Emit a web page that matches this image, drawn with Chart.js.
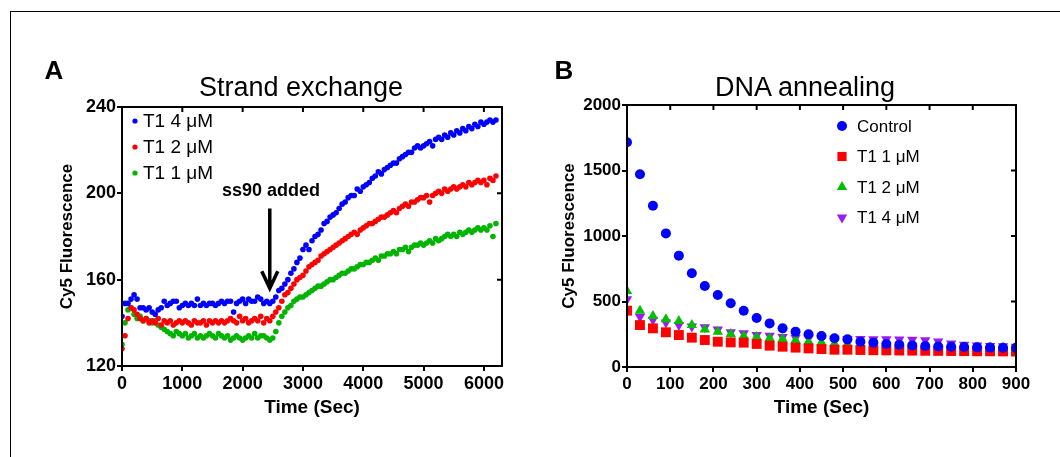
<!DOCTYPE html>
<html>
<head>
<meta charset="utf-8">
<title>Strand exchange / DNA annealing</title>
<script src="https://cdn.jsdelivr.net/npm/chart.js@4.4.1/dist/chart.umd.min.js"></script>
<style>
  body { margin: 0; background: #fff; font-family: "Liberation Sans", Arial, sans-serif; }
  #page { position: relative; width: 1060px; height: 457px; overflow: hidden; }
  #frame { position: absolute; left: 10px; top: 11px; width: 1100px; height: 500px;
           border-left: 1px solid #000; border-top: 1px solid #000; }
  .panel { position: absolute; top: 0; width: 530px; height: 457px; }
  .txt { position: absolute; white-space: nowrap; color: #000; line-height: 1;
         transform: translate(-50%, -50%); }
  .letter { font-weight: bold; font-size: 26px; }
  .title { font-size: 27px; }
</style>
</head>
<body>
<div id="page">
  <div id="frame"></div>
  <div class="panel" style="left:0"><canvas id="chartA" width="530" height="457"></canvas></div>
  <div class="panel" style="left:530px"><canvas id="chartB" width="530" height="457"></canvas></div>
  <div class="txt letter" style="left:54px;top:70px">A</div>
  <div class="txt letter" style="left:564px;top:70px">B</div>
  <div class="txt title" style="left:301px;top:87px">Strand exchange</div>
  <div class="txt title" style="left:805px;top:87px">DNA annealing</div>
  <div class="txt" style="left:271px;top:190px;font-weight:bold;font-size:18px">ss90 added</div>
</div>
<script>
// ---- Panel A: strand exchange, one reading every 50 s from 0 to 6200 s ----
const stepA = 50;
const t1_4uM = [
  143,149,149,151,153,151,147,147,146,147,
  145,144,146,147,150,148,149,150,150,147,
  148,149,148,149,148,151,148,149,148,149,
  149,148,149,150,149,150,150,145,149,150,
  151,149,151,150,150,152,151,149,150,149,
  150,152,155,156,158,160,163,165,168,170,
  174,176,174,178,180,181,183,186,187,189,
  190,191,193,195,196,198,199,199,202,201,
  203,204,205,207,208,210,209,211,212,213,
  214,214,216,217,218,219,219,221,222,221,
  222,223,224,222,225,226,225,227,226,228,
  227,229,228,230,229,231,230,232,231,233,
  232,233,234,233,234
];
const t1_2uM = [
  128,134,142,147,146,144,142,141,142,140,
  141,140,142,139,141,140,141,139,140,141,
  140,141,140,139,141,140,140,141,139,141,
  140,141,140,141,140,141,142,141,140,143,
  141,142,140,141,142,141,143,140,142,141,
  143,145,147,150,153,154,156,158,160,161,
  162,164,166,167,168,169,171,172,173,174,
  175,176,177,178,179,180,181,182,181,183,
  184,185,186,186,187,188,189,189,190,191,
  192,191,193,194,195,194,196,196,197,198,
  198,199,196,199,200,201,200,202,201,202,
  203,202,203,204,203,205,204,205,206,205,
  206,204,207,206,208
];
const t1_1uM = [
  130,140,146,147,144,142,143,141,142,141,
  140,141,139,138,137,136,135,134,136,135,
  134,135,133,134,135,133,134,133,134,135,
  134,133,135,134,133,134,132,133,134,133,
  132,133,134,133,135,133,134,134,133,132,
  133,136,140,143,145,147,148,150,151,152,
  152,153,154,155,156,157,157,158,159,160,
  160,161,162,163,163,164,165,165,166,167,
  167,168,168,169,170,169,171,171,172,172,
  173,172,174,174,175,173,175,176,176,177,
  176,177,178,177,179,178,179,180,181,180,
  181,180,182,181,182,183,182,183,184,183,
  184,183,185,180,186
];
const labelsA = ['T1 4 μM', 'T1 2 μM', 'T1 1 μM'];
const colorsA = ['#0000ff', '#ff0000', '#00b400'];
const xTicksA = [0, 1000, 2000, 3000, 4000, 5000, 6000];
const yTicksA = [120, 160, 200, 240];
const xMaxA = 6300;
// arrow marking the ss90 addition
const arrowAt = { x: 2450, top: 193, tip: 156 };

// ---- Panel B: DNA annealing, every 30 s from 0 to 900 s ----
const timesB = [0,30,60,90,120,150,180,210,240,270,300,330,360,390,420,450,
                480,510,540,570,600,630,660,690,720,750,780,810,840,870,900];
const control = [1715,1471,1231,1020,850,715,618,550,486,430,374,333,295,270,250,237,
                 219,211,193,186,176,170,165,160,157,155,152,150,148,147,146];
const b_t1_1uM = [430,320,295,265,244,224,206,193,188,186,176,163,155,148,142,137,
                  132,132,130,128,127,126,125,124,123,122,121,120,120,119,118];
const b_t1_2uM = [580,430,389,364,351,320,287,270,252,237,229,220,213,205,195,187,
                  180,175,170,167,164,161,158,156,154,152,150,149,148,147,146];
const b_t1_4uM = [517,384,360,340,320,310,303,287,265,257,244,239,229,223,220,218,
                  216,214,213,212,211,210,208,205,195,180,170,165,160,158,155];
const labelsB = ['Control', 'T1 1 μM', 'T1 2 μM', 'T1 4 μM'];
const colorsB = ['#0000ff', '#ff0000', '#00c000', '#9b1cf0'];
const xTicksB = [0, 100, 200, 300, 400, 500, 600, 700, 800, 900];
const yTicksB = [0, 500, 1000, 1500, 2000];

const FONT = '"Liberation Sans", Arial, sans-serif';

// closed box round the plot with inward ticks on top and right
const boxPlugin = {
  id: 'box',
  afterDraw(chart) {
    const { ctx, chartArea: a, scales: { x, y } } = chart;
    ctx.save();
    ctx.strokeStyle = '#000';
    ctx.lineWidth = 2;
    ctx.strokeRect(a.left, a.top, a.right - a.left, a.bottom - a.top);
    ctx.beginPath();
    x.ticks.forEach(t => {
      const px = x.getPixelForValue(t.value);
      if (px > a.left + 2 && px < a.right - 2) { ctx.moveTo(px, a.top); ctx.lineTo(px, a.top + 5); }
    });
    y.ticks.forEach(t => {
      const py = y.getPixelForValue(t.value);
      if (py > a.top + 2 && py < a.bottom - 2) { ctx.moveTo(a.right, py); ctx.lineTo(a.right - 5, py); }
    });
    ctx.stroke();
    ctx.restore();
  }
};

// legend drawn inside the plot
const innerLegend = {
  id: 'innerLegend',
  afterDraw(chart, args, o) {
    const ctx = chart.ctx;
    ctx.save();
    ctx.font = o.fontSize + 'px ' + FONT;
    ctx.textBaseline = 'middle';
    chart.data.datasets.forEach((ds, i) => {
      const yy = o.y + i * o.gap;
      ctx.fillStyle = ds.backgroundColor;
      Chart.helpers.drawPoint(ctx, {
        pointStyle: ds.pointStyle, radius: o.markerRadius[i],
        rotation: ds.pointRotation || 0, borderWidth: 0
      }, o.x, yy);
      ctx.fillStyle = '#000';
      ctx.fillText(ds.label, o.textX, yy + 1);
    });
    ctx.restore();
  }
};

const arrowPlugin = {
  id: 'arrow',
  afterDraw(chart) {
    if (chart.canvas.id !== 'chartA') return;
    const { ctx, scales: { x, y } } = chart;
    const px = x.getPixelForValue(arrowAt.x);
    const y0 = y.getPixelForValue(arrowAt.top);
    const y1 = y.getPixelForValue(arrowAt.tip);
    ctx.save();
    ctx.strokeStyle = '#000';
    ctx.lineWidth = 3.5;
    ctx.beginPath();
    ctx.moveTo(px, y0); ctx.lineTo(px, y1 - 1);
    ctx.moveTo(px - 8, y1 - 17); ctx.lineTo(px, y1); ctx.lineTo(px + 8, y1 - 17);
    ctx.stroke();
    ctx.restore();
  }
};

function axis(max, tickVals, title, tickSize, boxSize, horizontal) {
  return {
    type: 'linear', min: tickVals[0], max: max,
    afterFit(scale) { if (horizontal) scale.height = boxSize; else scale.width = boxSize; },
    afterBuildTicks(scale) { scale.ticks = tickVals.map(v => ({ value: v })); },
    ticks: { color: '#000', padding: horizontal ? 2 : 1, maxRotation: 0,
             callback: v => String(v),
             font: { family: FONT, size: tickSize, weight: 'bold' } },
    grid: { drawOnChartArea: false, drawTicks: true, tickLength: 5, color: '#000', lineWidth: 2 },
    border: { display: true, color: '#000', width: 2 },
    title: { display: true, text: title, color: '#000', padding: 0,
             font: { family: FONT, size: horizontal ? 19 : 17, weight: 'bold' } }
  };
}

const seriesA = [t1_4uM, t1_2uM, t1_1uM];
new Chart(document.getElementById('chartA'), {
  type: 'scatter',
  data: {
    datasets: seriesA.map((vals, i) => ({
      label: labelsA[i],
      data: vals.map((v, k) => ({ x: k * stepA, y: v })),
      backgroundColor: colorsA[i], borderWidth: 0,
      pointStyle: 'circle', pointRadius: 2.8
    }))
  },
  options: {
    responsive: false, animation: false,
    layout: { padding: { left: 57, top: 107, right: 28, bottom: 38 } },
    plugins: {
      legend: { display: false }, tooltip: { enabled: false },
      innerLegend: { x: 135, textX: 143, y: 121, gap: 26, fontSize: 19, markerRadius: [2.6, 2.6, 2.6] }
    },
    scales: {
      x: axis(xMaxA, xTicksA, 'Time (Sec)', 18, 53, true),
      y: axis(yTicksA[yTicksA.length - 1], yTicksA, 'Cy5 Fluorescence', 18, 65, false)
    }
  },
  plugins: [boxPlugin, innerLegend, arrowPlugin]
});

const seriesB = [control, b_t1_1uM, b_t1_2uM, b_t1_4uM];
const stylesB = [
  { pointStyle: 'circle', pointRadius: 5, pointRotation: 0 },
  { pointStyle: 'rect', pointRadius: 7, pointRotation: 0 },
  { pointStyle: 'triangle', pointRadius: 6, pointRotation: 0 },
  { pointStyle: 'triangle', pointRadius: 6, pointRotation: 180 }
];
new Chart(document.getElementById('chartB'), {
  type: 'scatter',
  data: {
    datasets: seriesB.map((vals, i) => ({
      label: labelsB[i],
      data: vals.map((v, k) => ({ x: timesB[k], y: v })),
      backgroundColor: colorsB[i], borderWidth: 0,
      pointStyle: stylesB[i].pointStyle, pointRadius: stylesB[i].pointRadius,
      pointRotation: stylesB[i].pointRotation
    }))
  },
  options: {
    responsive: false, animation: false,
    layout: { padding: { left: 29, top: 105, right: 44, bottom: 38 } },
    plugins: {
      legend: { display: false }, tooltip: { enabled: false },
      innerLegend: { x: 312, textX: 327, y: 126, gap: 30.5, fontSize: 17, markerRadius: [5, 6.5, 6, 6] }
    },
    scales: {
      x: axis(xTicksB[xTicksB.length - 1], xTicksB, 'Time (Sec)', 17, 52, true),
      y: axis(yTicksB[yTicksB.length - 1], yTicksB, 'Cy5 Fluorescence', 17, 68, false)
    }
  },
  plugins: [boxPlugin, innerLegend, arrowPlugin]
});
</script>
</body>
</html>
